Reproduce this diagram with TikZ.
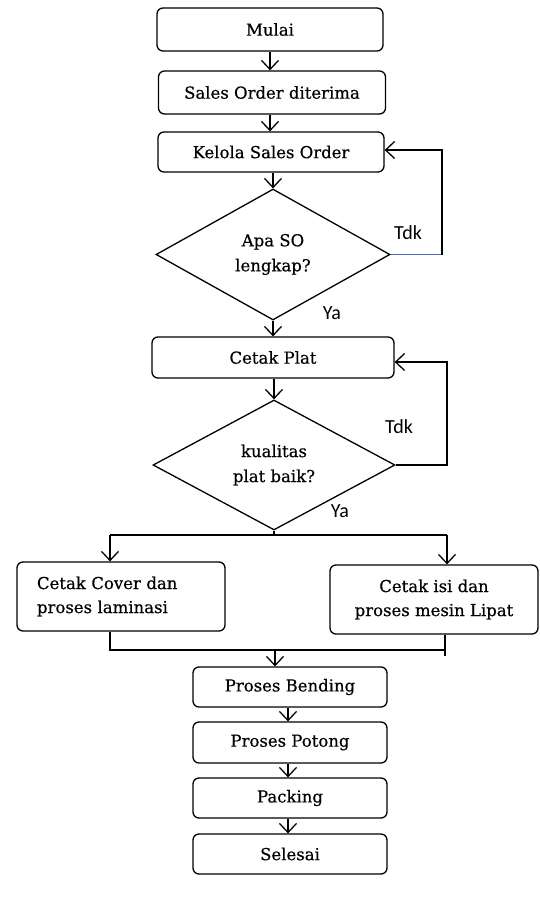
\documentclass[tikz,border=0pt]{standalone}
\usepackage{fontspec}
\setmainfont{DejaVu Serif}
\newfontfamily\boxfont[FakeBold=0.5]{DejaVu Serif}
\newfontfamily\lblfont{Carlito}
\usetikzlibrary{shapes.geometric,arrows.meta}
\tikzset{
  x=1pt,y=-1pt,
  every path/.style={line width=1.3pt},
  box/.style={draw, rounded corners=6pt, inner sep=2pt, align=center, font=\boxfont\fontsize{16.5}{24}\selectfont},
  dec/.style={draw, diamond, inner sep=0pt, align=center, font=\boxfont\fontsize{16.5}{25}\selectfont},
  lbl/.style={font=\lblfont\fontsize{20}{22}\selectfont},
  arr/.style={-{Straight Barb[length=9pt,width=17pt,line width=1.3pt]}},
}
\begin{document}
\begin{tikzpicture}
\useasboundingbox (0,0) rectangle (539,910);
\node[box, minimum width=226pt, minimum height=43pt] (mulai) at (270,29.5) {Mulai};
\node[box, minimum width=227pt, minimum height=43pt] (so) at (272,92.5) {Sales Order diterima};
\node[box, minimum width=226pt, minimum height=40pt] (kelola) at (271,152) {Kelola Sales Order};
\node[dec, minimum width=234pt, minimum height=131pt] (d1) at (273,254.5) {Apa SO\\lengkap?};
\node[box, minimum width=242pt, minimum height=41pt] (plat) at (273,357.5) {Cetak Plat};
\node[dec, minimum width=242pt, minimum height=130pt] (d2) at (274,465) {kualitas\\plat baik?};
\node[box, minimum width=208pt, minimum height=69pt, text width=168pt, align=left] (cover) at (121,596.5) {Cetak Cover dan\\proses laminasi};
\node[box, minimum width=208pt, minimum height=69pt] (isi) at (434,599.5) {Cetak isi dan\\proses mesin Lipat};
\node[box, minimum width=194pt, minimum height=40pt] (bending) at (290,687) {Proses Bending};
\node[box, minimum width=194pt, minimum height=41pt] (potong) at (290,742.5) {Proses Potong};
\node[box, minimum width=194pt, minimum height=40pt] (packing) at (290,798) {Packing};
\node[box, minimum width=194pt, minimum height=40pt] (selesai) at (290,854) {Selesai};

\coordinate (l1a) at (442,254.5);
\coordinate (l1b) at (442,150);
\coordinate (l2a) at (447,465);
\coordinate (l2b) at (447,362);
\coordinate (split) at (274,535);
\coordinate (sl) at (110,535);
\coordinate (sr) at (447,535);
\coordinate (jl) at (110,650);
\coordinate (jr) at (445,650);
\coordinate (jrb) at (445,656);
\coordinate (jm) at (275,650);

\draw[arr] (mulai.south -| 270,0) -- (so.north -| 270,0);
\draw[arr] (so.south -| 270,0) -- (kelola.north -| 270,0);
\draw[arr] (kelola.south -| 273,0) -- (d1.north);
\draw[arr] (d1.south) -- (plat.north -| d1.south);
\draw[arr] (plat.south -| d2.north) -- (d2.north);
\draw[draw={rgb,255:red,70;green,110;blue,180}] (d1.east) -- (l1a);
\draw[arr] (l1a) -- (l1b) -- (kelola.east |- l1b);
\draw[arr] (d2.east) -- (l2a) -- (l2b) -- (plat.east |- l2b);
\draw (d2.south) -- (split);
\draw[arr] (sl) -- (sl |- cover.north);
\draw (sl) -- (sr);
\draw[arr] (sr) -- (sr |- isi.north);
\draw (cover.south -| sl) -- (jl) -- (jr);
\draw (isi.south -| jr) -- (jrb);
\draw[arr] (jm) -- (bending.north -| jm);
\draw[arr] (bending.south -| 288,0) -- (potong.north -| 288,0);
\draw[arr] (potong.south -| 288,0) -- (packing.north -| 288,0);
\draw[arr] (packing.south -| 288,0) -- (selesai.north -| 288,0);

\node[lbl] (t1) at (408,233) {Tdk};
\node[lbl] (y1) at (332,313) {Ya};
\node[lbl] (t2) at (399,427) {Tdk};
\node[lbl] (y2) at (340,511) {Ya};
\end{tikzpicture}
\end{document}
